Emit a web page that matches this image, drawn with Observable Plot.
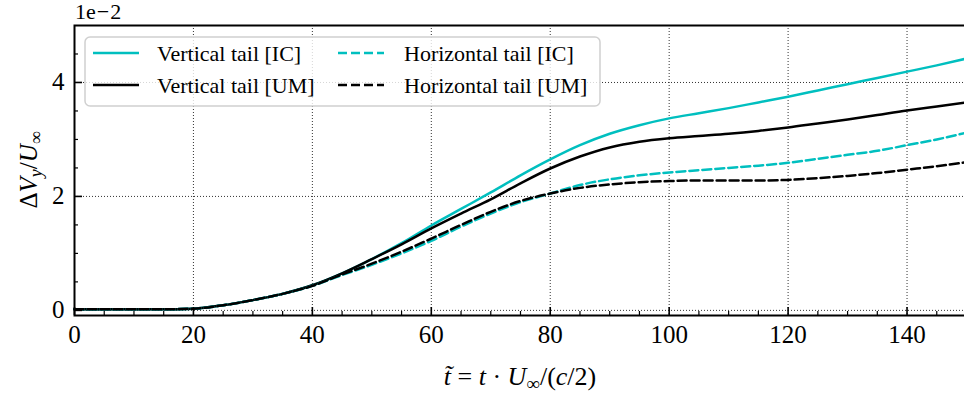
<!DOCTYPE html>
<html>
<head>
<meta charset="utf-8">
<script src="https://cdn.jsdelivr.net/npm/d3@7"></script>
<script src="https://cdn.jsdelivr.net/npm/@observablehq/plot@0.6"></script>
<style>
  html, body { margin: 0; padding: 0; background: #fff; }
  #chart { width: 964px; height: 396px; overflow: hidden; }
</style>
</head>
<body>
<div id="chart"></div>
<script>
// Non-dimensional time t~ = t·U∞/(c/2)
const tTilde = [0, 5, 10, 15, 20, 25, 30, 35, 40, 45, 50, 55, 60, 65, 70, 75, 80,
                85, 90, 95, 100, 105, 110, 115, 120, 125, 130, 135, 140, 145, 150];

// ΔV_y/U∞, in units of 1e-2
const verticalIC = [0.02, 0.02, 0.02, 0.02, 0.03, 0.09, 0.18, 0.29, 0.44, 0.65, 0.90, 1.18, 1.49, 1.78, 2.07, 2.37, 2.65,
                    2.90, 3.10, 3.25, 3.37, 3.46, 3.55, 3.65, 3.75, 3.86, 3.97, 4.08, 4.19, 4.30, 4.42];
const verticalUM = [0.02, 0.02, 0.02, 0.02, 0.03, 0.09, 0.18, 0.29, 0.44, 0.65, 0.90, 1.16, 1.44, 1.70, 1.95, 2.23, 2.49,
                    2.70, 2.86, 2.96, 3.02, 3.06, 3.10, 3.15, 3.21, 3.28, 3.35, 3.43, 3.51, 3.58, 3.65];
const horizontalIC = [0.02, 0.02, 0.02, 0.02, 0.03, 0.09, 0.18, 0.29, 0.43, 0.62, 0.80, 1.00, 1.22, 1.47, 1.70, 1.90, 2.05,
                      2.20, 2.30, 2.37, 2.42, 2.46, 2.50, 2.54, 2.59, 2.66, 2.73, 2.80, 2.90, 3.00, 3.12];
const horizontalUM = [0.02, 0.02, 0.02, 0.02, 0.03, 0.09, 0.18, 0.29, 0.43, 0.63, 0.82, 1.03, 1.26, 1.50, 1.73, 1.92, 2.05,
                      2.15, 2.21, 2.25, 2.27, 2.28, 2.28, 2.28, 2.29, 2.32, 2.36, 2.41, 2.47, 2.53, 2.60];

const seriesNames = ["Vertical tail [IC]", "Vertical tail [UM]", "Horizontal tail [IC]", "Horizontal tail [UM]"];
const seriesValues = [verticalIC, verticalUM, horizontalIC, horizontalUM];
const seriesColors = ["#00bfbf", "#000000", "#00bfbf", "#000000"];
const seriesDashes = [null, null, "9,4", "9,4"];

const xMajorTicks = [0, 20, 40, 60, 80, 100, 120, 140];
const xMinorTicks = d3.range(0, 151, 5).filter(d => d % 20 !== 0);
const yMajorTicks = [0, 2, 4];
const yMinorTicks = [0.5, 1, 1.5, 2.5, 3, 3.5, 4.5];

const rows = seriesNames.flatMap((name, s) =>
  tTilde.map((t, i) => ({name, t, v: seriesValues[s][i]})));

const serif = "Liberation Serif";
const gridStyle = {stroke: "#333", strokeOpacity: 1, strokeWidth: 1, strokeDasharray: "1,2"};

const chart = Plot.plot({
  width: 964,
  height: 396,
  marginLeft: 74,
  marginRight: -2,
  marginTop: 25,
  marginBottom: 81,
  x: {domain: [0, 150], label: null},
  y: {domain: [-0.09, 5.0], label: null},
  style: {fontFamily: serif, fontSize: "25px", color: "black", background: "white", overflow: "hidden"},
  marks: [
    Plot.gridX(xMajorTicks, gridStyle),
    Plot.gridY(yMajorTicks, gridStyle),
    ...seriesNames.map((name, s) =>
      Plot.line(rows.filter(d => d.name === name), {
        x: "t", y: "v",
        stroke: seriesColors[s],
        strokeWidth: 2.5,
        strokeDasharray: seriesDashes[s],
        curve: "monotone-x"
      })),
    // inward ticks
    Plot.axisX(xMinorTicks, {tickSize: -4, tickFormat: () => "", strokeWidth: 1.2, label: null}),
    Plot.axisX(xMajorTicks, {tickSize: -8, tickFormat: () => "", strokeWidth: 1.6, label: null}),
    Plot.axisY(yMinorTicks, {tickSize: -4, tickFormat: () => "", strokeWidth: 1.2, label: null}),
    Plot.axisY(yMajorTicks, {tickSize: -8, tickFormat: () => "", strokeWidth: 1.6, label: null}),
    // tick labels
    Plot.axisX(xMajorTicks, {tickSize: 0, tickPadding: 10, tickFormat: d => String(d), label: null}),
    Plot.axisY(yMajorTicks, {tickSize: 0, tickPadding: 10, tickFormat: d => String(d), label: null}),
    Plot.frame({stroke: "black", strokeWidth: 2})
  ]
});

const svg = d3.select(chart);

// offset text of the y axis
const offset = svg.append("text")
  .attr("x", 75).attr("y", 19)
  .attr("text-anchor", "start")
  .attr("font-family", serif).attr("font-size", 22);
offset.append("tspan").text("1e");
offset.append("tspan").attr("dx", 1).text("\u2212");
offset.append("tspan").attr("dx", 1).text("2");

// y axis label: ΔV_y / U∞
const yLab = svg.append("text")
  .attr("transform", "translate(37,170) rotate(-90)")
  .attr("text-anchor", "middle")
  .attr("font-family", serif).attr("font-size", 25);
yLab.append("tspan").text("\u0394");
yLab.append("tspan").attr("font-style", "italic").text("V");
yLab.append("tspan").attr("font-style", "italic").attr("font-size", 18).attr("dy", 5).text("y");
yLab.append("tspan").attr("dy", -5).text("/");
yLab.append("tspan").attr("font-style", "italic").text("U");
yLab.append("tspan").attr("font-size", 18).attr("dy", 5).text("\u221e");

// x axis label: t~ = t · U∞ / (c/2)
const xLab = svg.append("text")
  .attr("x", 520).attr("y", 385)
  .attr("text-anchor", "middle")
  .attr("font-family", serif).attr("font-size", 26);
xLab.append("tspan").attr("font-style", "italic").text("t\u0303");
xLab.append("tspan").text(" = ");
xLab.append("tspan").attr("font-style", "italic").text("t");
xLab.append("tspan").text(" \u00b7 ");
xLab.append("tspan").attr("font-style", "italic").text("U");
xLab.append("tspan").attr("font-size", 19).attr("dy", 5).text("\u221e");
xLab.append("tspan").attr("dy", -5).text("/(");
xLab.append("tspan").attr("font-style", "italic").text("c");
xLab.append("tspan").text("/2)");

// legend
const legend = svg.append("g")
  .attr("font-family", serif).attr("font-size", 22).attr("text-anchor", "start");
legend.append("rect")
  .attr("x", 85).attr("y", 37).attr("width", 515).attr("height", 69).attr("rx", 5)
  .attr("fill", "white").attr("fill-opacity", 0.8)
  .attr("stroke", "#d0d0d0").attr("stroke-width", 1.5);
const legendCols = [[93, 157], [338, 404]];
const legendRows = [53, 85];
seriesNames.forEach((name, s) => {
  const [hx, tx] = legendCols[Math.floor(s / 2)];
  const cy = legendRows[s % 2];
  legend.append("line")
    .attr("x1", hx).attr("x2", hx + 46).attr("y1", cy).attr("y2", cy)
    .attr("stroke", seriesColors[s]).attr("stroke-width", 2.5)
    .attr("stroke-dasharray", seriesDashes[s]);
  legend.append("text").attr("x", tx).attr("y", cy + 8).text(name);
});

document.getElementById("chart").appendChild(chart);
</script>
</body>
</html>
